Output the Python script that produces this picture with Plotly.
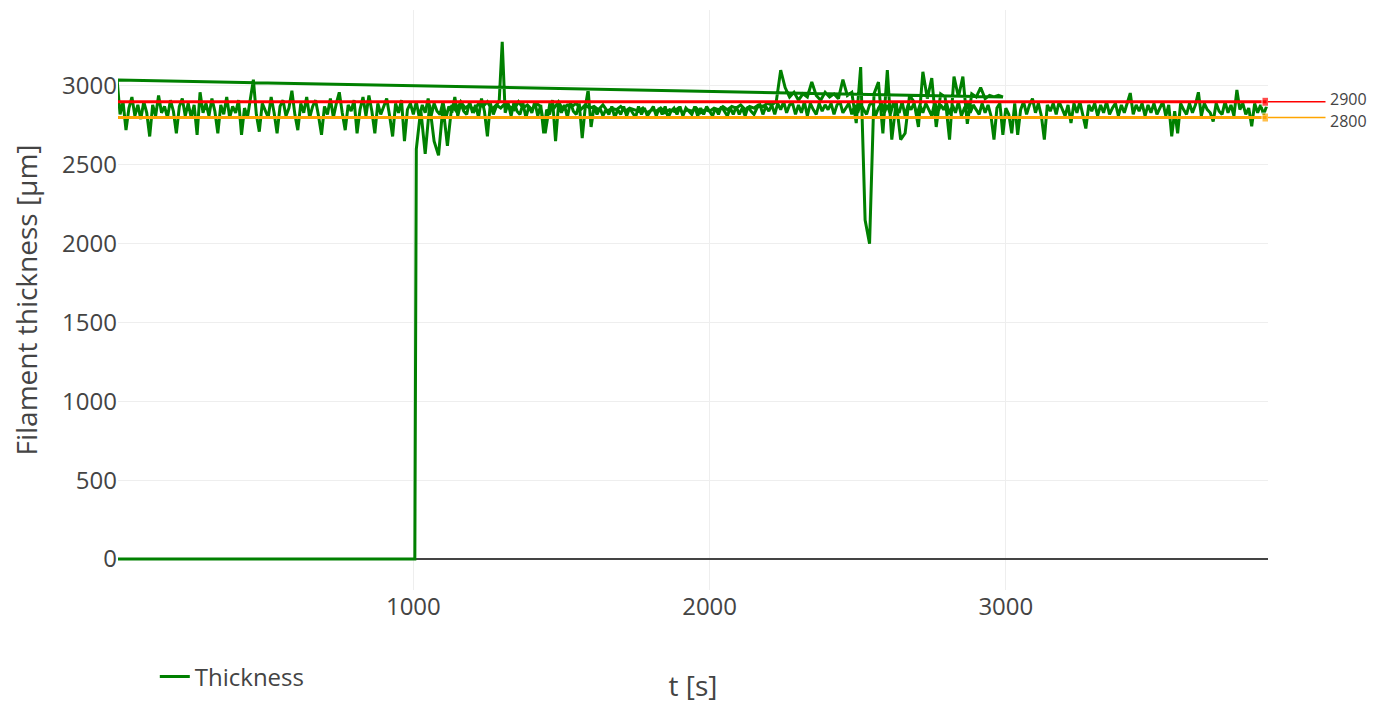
import plotly.graph_objects as go

# ---------------- data ----------------
# Segment A: idle (zero) period, jump, then first noisy run
t_zero = [0, 250, 500, 750, 1005]
thick_zero = [0, 0, 0, 0, 0]

t_run1_start, t_run1_step = 1010, 15
thick_run1 = [
    2600, 2850, 2570, 2880, 2650, 2560, 2870, 2620, 2880, 2840,
    2900, 2860, 2880, 2840, 2890, 2870, 2900, 2850, 2880, 2860,
    2890, 2870, 2850, 2900, 2860, 2880, 2850, 2890, 2870, 2700,
    2880, 2860, 2900, 2850, 2880, 2870, 2890, 2850, 2880, 2860,
    2870, 2850, 2880, 2840, 2860, 2850, 2870, 2840, 2860, 2850,
    2840, 2860, 2830, 2850, 2840, 2860, 2830, 2850, 2840, 2860,
    2830, 2850, 2840, 2860, 2830, 2850, 2840, 2860, 2850, 2870,
    2850, 2870, 2860, 2880, 2850, 2870, 2860, 2880, 2870, 2890,
    2880, 2900, 3100, 2990, 2930, 2960, 2910, 2950, 2930, 3025,
    2940, 2910, 2960, 2930, 2950, 2920, 3040, 2940, 2960, 2765,
    3120, 2150, 2000, 2950, 3025, 2700, 3100, 2660, 2900, 2660,
    2700, 2940, 2900, 2740, 3090, 2920, 3050, 2740, 2950, 2930,
    2660, 3060, 2930, 3060, 2760, 2950, 2930, 2990, 2920, 2940,
    2930, 2940, 2930,
]

# Segment B: second run, restarting at t = 0
t_run2_start, t_run2_step = 0, 10
thick_run2 = [
    3038, 2820, 2900, 2720, 2860, 2930, 2810, 2880, 2790, 2900,
    2830, 2680, 2880, 2810, 2940, 2830, 2870, 2800, 2910, 2840,
    2700, 2870, 2920, 2810, 2890, 2800, 2880, 2690, 2960, 2830,
    2890, 2810, 2920, 2840, 2700, 2880, 2820, 2930, 2800, 2870,
    2830, 2910, 2690, 2860, 2800, 2920, 3040, 2820, 2710, 2890,
    2840, 2800, 2930, 2830, 2700, 2870, 2910, 2810, 2860, 2970,
    2820, 2720, 2890, 2830, 2930, 2800, 2870, 2910, 2810, 2690,
    2870, 2820, 2920, 2800, 2890, 2960, 2830, 2720, 2880, 2840,
    2910, 2700, 2850, 2930, 2810, 2940, 2840, 2700, 2890, 2820,
    2870, 2920, 2810, 2680, 2890, 2830, 2910, 2650, 2850, 2890,
    2820, 2900, 2800, 2880, 2830, 2920, 2810, 2890, 2840, 2820,
    2900, 2800, 2870, 2830, 2930, 2810, 2890, 2840, 2820, 2900,
    2830, 2880, 2800, 2920, 2840, 2680, 2890, 2820, 2870, 2910,
    3280, 2830, 2890, 2810, 2900, 2840, 2820, 2890, 2800, 2870,
    2830, 2900, 2810, 2880, 2700, 2850, 2820, 2910, 2650, 2880,
    2830, 2880, 2800, 2900, 2840, 2820, 2890, 2670, 2860, 2975,
    2740, 2870, 2820, 2860, 2810, 2850, 2820, 2870, 2800, 2850,
    2820, 2870, 2810, 2860, 2830, 2800, 2870, 2820, 2860, 2810,
    2840, 2870, 2810, 2860, 2820, 2870, 2800, 2840, 2860, 2820,
    2870, 2810, 2860, 2840, 2820, 2870, 2810, 2860, 2820, 2870,
    2840, 2810, 2860, 2820, 2870, 2840, 2810, 2860, 2820, 2870,
    2820, 2860, 2810, 2870, 2840, 2820, 2860, 2880, 2820, 2870,
    2840, 2880, 2820, 2890, 2850, 2900, 2830, 2880, 2890, 2820,
    2880, 2830, 2900, 2810, 2890, 2850, 2820, 2890, 2840, 2880,
    2850, 2890, 2820, 2880, 2900, 2830, 2860, 2890, 2820, 2880,
    2830, 2890, 2850, 2820, 2880, 2900, 2810, 2860, 2890, 2830,
    2880, 2820, 2890, 2850, 2830, 2900, 2810, 2880, 2850, 2890,
    2820, 2880, 2830, 2890, 2850, 2810, 2900, 2830, 2880, 2850,
    2890, 2820, 2880, 2830, 2900, 2810, 2860, 2890, 2830, 2880,
    2850, 2820, 2890, 2830, 2880, 2810, 2660, 2860, 2890, 2690,
    2860, 2820, 2700, 2890, 2690, 2850, 2900, 2820, 2880, 2920,
    2830, 2890, 2810, 2660, 2880, 2840, 2890, 2820, 2900, 2850,
    2810, 2880, 2765, 2890, 2830, 2900, 2820, 2730, 2880, 2840,
    2890, 2810, 2880, 2830, 2900, 2820, 2860, 2890, 2810, 2880,
    2830, 2900, 2955, 2820, 2880, 2840, 2890, 2810, 2880, 2830,
    2890, 2820, 2860, 2900, 2810, 2880, 2680, 2840, 2700, 2890,
    2850, 2820, 2890, 2830, 2880, 2960, 2810, 2890, 2850, 2830,
    2775, 2890, 2840, 2820, 2900, 2830, 2880, 2810, 2975, 2850,
    2890, 2820, 2860, 2745, 2890, 2830, 2880, 2820, 2870,
]

limit_values = [2900, 2800]
limit_colors = ["red", "orange"]
limit_labels = ["2900", "2800"]
label_shift = [3, -3]

# ---------------- assemble ----------------
t_run1 = [t_run1_start + i * t_run1_step for i in range(len(thick_run1))]
t_run2 = [t_run2_start + i * t_run2_step for i in range(len(thick_run2))]
t_all = t_zero + t_run1 + t_run2
thick_all = thick_zero + thick_run1 + thick_run2
t_end = t_run2[-1]

fig = go.Figure()

fig.add_trace(go.Scatter(
    x=t_all, y=thick_all, mode="lines", name="Thickness",
    line=dict(color="green", width=3),
))

for val, col in zip(limit_values[::-1], limit_colors[::-1]):
    fig.add_trace(go.Scatter(
        x=[0, t_end], y=[val, val], mode="lines+markers",
        line=dict(color=col, width=3),
        marker=dict(symbol="square", size=[0, 9], color=col),
        showlegend=False, hoverinfo="skip",
    ))

for val, col, lab, sh in zip(limit_values, limit_colors, limit_labels, label_shift):
    fig.add_shape(type="line", xref="paper", yref="y",
                  x0=1.0, x1=1.05, y0=val, y1=val,
                  line=dict(color=col, width=1.5))
    fig.add_annotation(xref="paper", yref="y", x=1.053, y=val,
                       text=lab, showarrow=False, xanchor="left",
                       yanchor="middle", yshift=sh, borderpad=0,
                       font=dict(size=16, color="#444"))

font_family = "Open Sans, Verdana, Arial, sans-serif"
fig.update_layout(
    width=1397, height=704,
    margin=dict(l=118, r=129, t=10, b=114, autoexpand=False),
    paper_bgcolor="white", plot_bgcolor="white",
    font=dict(family=font_family, color="#444", size=24),
    showlegend=True,
    legend=dict(orientation="h", x=0.032, xanchor="left", y=-0.15,
                yanchor="middle", font=dict(size=24),
                bgcolor="rgba(0,0,0,0)"),
    xaxis=dict(
        range=[3, 3885], tickvals=[1000, 2000, 3000],
        showgrid=True, gridcolor="#eee", gridwidth=1,
        zeroline=False, showline=False, ticks="",
        tickfont=dict(size=24),
        title=dict(text="t [s]", font=dict(size=28), standoff=56),
        automargin=False,
    ),
    yaxis=dict(
        range=[-197, 3482], tickvals=[0, 500, 1000, 1500, 2000, 2500, 3000],
        showgrid=True, gridcolor="#eee", gridwidth=1,
        zeroline=True, zerolinecolor="#444", zerolinewidth=1.5,
        showline=False, ticks="",
        tickfont=dict(size=24),
        title=dict(text="Filament thickness [µm]", font=dict(size=28), standoff=16),
        automargin=False,
    ),
)

fig.write_html("out.html")
